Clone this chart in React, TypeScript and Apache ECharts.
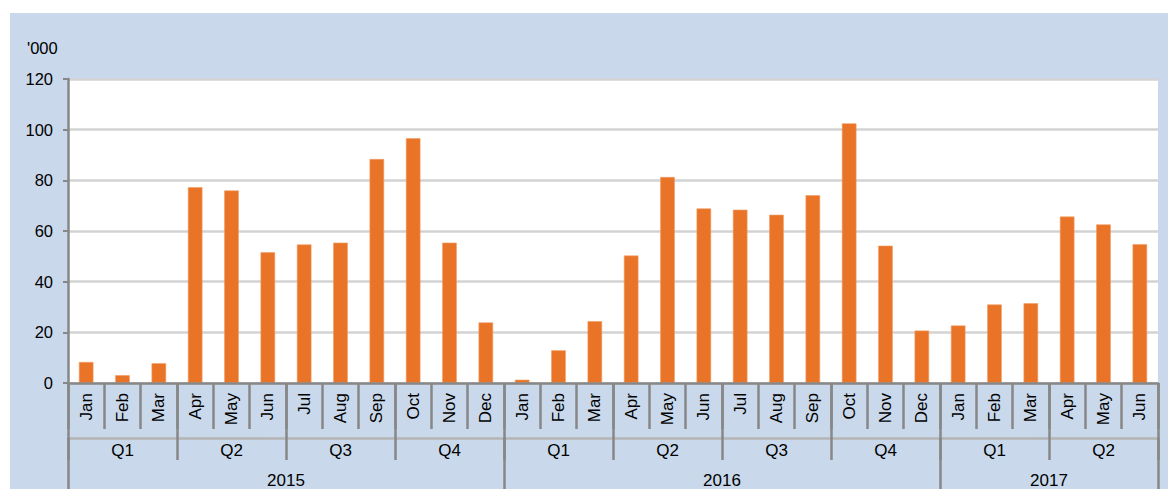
import React, { useEffect, useRef } from "react";
import * as echarts from "echarts";

const months = [
  "Jan", "Feb", "Mar", "Apr", "May", "Jun", "Jul", "Aug", "Sep", "Oct", "Nov", "Dec",
  "Jan", "Feb", "Mar", "Apr", "May", "Jun", "Jul", "Aug", "Sep", "Oct", "Nov", "Dec",
  "Jan", "Feb", "Mar", "Apr", "May", "Jun",
];
const quarters = ["Q1", "Q2", "Q3", "Q4", "Q1", "Q2", "Q3", "Q4", "Q1", "Q2"];
const years = ["2015", "2016", "2017"];
const yearBoundaries = [0, 12, 24, 30];
const yearCentres = [6, 18, 27];
const values = [
  8.3, 3.1, 7.8, 77.3, 76.0, 51.6, 54.7, 55.4, 88.4, 96.6, 55.4, 23.9,
  1.3, 12.9, 24.4, 50.3, 81.3, 68.9, 68.4, 66.4, 74.1, 102.5, 54.2, 20.7,
  22.7, 31.0, 31.5, 65.7, 62.6, 54.8,
];
const yTicks = [0, 20, 40, 60, 80, 100, 120];

const FONT = "'Liberation Sans', Arial, sans-serif";
const DARK = "#878787";

export default function App() {
  const ref = useRef<HTMLDivElement>(null);
  useEffect(() => {
    if (!ref.current) return;
    const chart = echarts.init(ref.current, undefined, { renderer: "svg" });
    chart.setOption({
      animation: false,
      backgroundColor: "#C9D8EA",
      title: {
        text: "'000",
        left: 12,
        top: 21,
        textStyle: { fontSize: 16.5, fontWeight: "normal", color: "#000", fontFamily: FONT },
      },
      grid: {
        left: 58,
        right: 10,
        top: 66,
        bottom: 104,
        show: true,
        backgroundColor: "#ffffff",
        borderWidth: 0,
        containLabel: false,
      },
      xAxis: [
        {
          type: "category",
          data: months,
          position: "bottom",
          boundaryGap: true,
          axisLine: { show: true, lineStyle: { color: DARK, width: 2.5 } },
          axisTick: { show: true, interval: 0, length: 46, lineStyle: { color: DARK, width: 2.5 } },
          axisLabel: {
            interval: 0,
            rotate: 90,
            margin: 10,
            fontSize: 17,
            color: "#000",
            fontFamily: FONT,
          },
          splitLine: { show: false },
          z: 5,
        },
        {
          type: "category",
          data: quarters,
          position: "bottom",
          offset: 0,
          boundaryGap: true,
          axisLine: { show: false },
          axisTick: { show: true, interval: 0, length: 77, lineStyle: { color: DARK, width: 2.5 } },
          axisLabel: { interval: 0, margin: 59, fontSize: 17, color: "#000", fontFamily: FONT },
          splitLine: { show: false },
        },
        {
          type: "value",
          min: 0,
          max: 30,
          position: "bottom",
          offset: 55,
          axisLine: { show: true, lineStyle: { color: "#B4B4B4", width: 2.5 } },
          axisTick: {
            show: true,
            customValues: yearBoundaries,
            length: 52,
            lineStyle: { color: DARK, width: 2.5 },
          },
          axisLabel: {
            customValues: yearCentres,
            margin: 34,
            fontSize: 17,
            color: "#000",
            fontFamily: FONT,
            formatter: (v: number) => years[yearCentres.indexOf(v)] ?? "",
          },
          splitLine: { show: false },
        },
      ],
      yAxis: {
        type: "value",
        min: yTicks[0],
        max: yTicks[yTicks.length - 1],
        interval: 20,
        axisLine: { show: true, lineStyle: { color: DARK, width: 2.5 } },
        axisTick: { show: true, length: 5, lineStyle: { color: DARK, width: 2 } },
        axisLabel: { margin: 15, fontSize: 16.5, color: "#000", fontFamily: FONT },
        splitLine: { show: true, lineStyle: { color: "#D3D3D3", width: 2.5 } },
      },
      series: [
        {
          type: "bar",
          xAxisIndex: 0,
          yAxisIndex: 0,
          data: values,
          barWidth: "40%",
          itemStyle: { color: "#E97427", borderColor: "#F29C63", borderWidth: 0.6 },
        },
      ],
    });
    return () => chart.dispose();
  }, []);
  return (
    <div
      ref={ref}
      style={{ position: "fixed", left: 10, top: 13, width: 1158, height: 476 }}
    />
  );
}
